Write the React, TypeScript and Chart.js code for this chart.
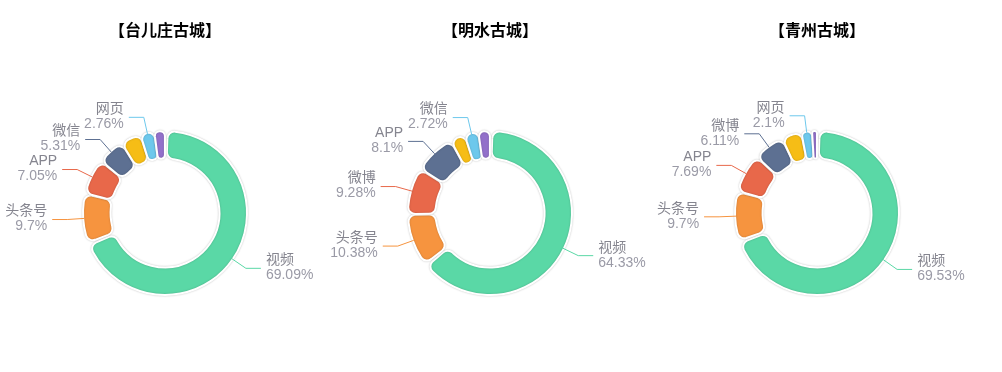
import React, { useEffect, useRef } from 'react';
import { Chart, registerables } from 'chart.js';

Chart.register(...registerables);

const titles = ['【台儿庄古城】', '【明水古城】', '【青州古城】'];

const namesA = ['视频', '头条号', 'APP', '微信', '微博', '网页', '其他'];
const valuesA = [69.09, 9.7, 7.05, 5.31, 4.0, 2.76, 2.09];

const namesB = ['视频', '头条号', '微博', 'APP', '网页', '微信', '其他'];
const valuesB = [64.33, 10.38, 9.28, 8.1, 2.9, 2.72, 2.29];

const namesC = ['视频', '头条号', 'APP', '微博', '微信', '网页', '其他'];
const valuesC = [69.53, 9.7, 7.69, 6.11, 3.9, 2.1, 0.97];

const colors = ['#5AD8A6', '#F6943F', '#E8684A', '#5D7092', '#F6BD16', '#6DC8EC', '#9270CA'];

const LABEL_FONT = '14px "Liberation Sans", "Noto Sans CJK SC", sans-serif';

const shadowPlugin = {
  id: 'arcShadow',
  beforeDatasetDraw(chart: any) {
    const ctx = chart.ctx;
    ctx.save();
    ctx.shadowColor = 'rgba(0,0,0,0.22)';
    ctx.shadowBlur = 2;
  },
  afterDatasetDraw(chart: any) {
    chart.ctx.restore();
  },
};

const titlePlugin = {
  id: 'customTitle',
  afterDraw(chart: any) {
    const ctx = chart.ctx;
    const t = chart.options.plugins.customTitle.text;
    ctx.save();
    ctx.font = 'bold 16px "Noto Sans CJK SC", sans-serif';
    ctx.fillStyle = '#000';
    ctx.textAlign = 'center';
    ctx.textBaseline = 'middle';
    ctx.fillText(t, chart.width / 2, 30);
    ctx.restore();
  },
};

const labelPlugin = {
  id: 'pieLabels',
  afterDatasetsDraw(chart: any) {
    const ctx = chart.ctx;
    const meta = chart.getDatasetMeta(0);
    const ds = chart.data.datasets[0];
    const labels = chart.data.labels;
    const placed: number[][] = [];
    ctx.save();
    ctx.font = LABEL_FONT;
    meta.data.forEach((arc: any, i: number) => {
      const { x, y, startAngle, endAngle, outerRadius } = arc.getProps(
        ['x', 'y', 'startAngle', 'endAngle', 'outerRadius'],
        true
      );
      const mid = (startAngle + endAngle) / 2;
      const c = Math.cos(mid);
      const s = Math.sin(mid);
      const r0 = outerRadius;
      const r1 = outerRadius + 17;
      const x0 = x + c * r0;
      const y0 = y + s * r0;
      const x1 = x + c * r1;
      const y1 = y + s * r1;
      const right = c >= 0;
      const x2 = x1 + (right ? 15 : -15);
      const tx = x2 + (right ? 5 : -5);
      const name = String(labels[i]);
      const pct = `${ds.data[i]}%`;
      const w = Math.max(ctx.measureText(name).width, ctx.measureText(pct).width);
      const box = right ? [tx, y1 - 15, tx + w, y1 + 15] : [tx - w, y1 - 15, tx, y1 + 15];
      const hit = placed.some(
        (b) => box[0] < b[2] && box[2] > b[0] && box[1] < b[3] && box[3] > b[1]
      );
      if (hit) return;
      placed.push(box);
      ctx.strokeStyle = colors[i % colors.length];
      ctx.lineWidth = 1;
      ctx.beginPath();
      ctx.moveTo(x0, y0);
      ctx.lineTo(x1, y1);
      ctx.lineTo(x2, y2Fix(y1));
      ctx.stroke();
      ctx.textAlign = right ? 'left' : 'right';
      ctx.textBaseline = 'middle';
      ctx.fillStyle = '#85858f';
      ctx.fillText(name, tx, y1 - 8);
      ctx.fillStyle = '#9a9aa6';
      ctx.fillText(pct, tx, y1 + 7);
    });
    ctx.restore();
  },
};

function y2Fix(v: number) {
  return v;
}

function Donut({ title, names, values, left }: { title: string; names: string[]; values: number[]; left: number }) {
  const ref = useRef<HTMLCanvasElement | null>(null);
  useEffect(() => {
    if (!ref.current) return;
    const chart = new Chart(ref.current, {
      type: 'doughnut',
      data: {
        labels: names,
        datasets: [
          {
            data: values,
            backgroundColor: colors,
            borderColor: '#ffffff',
            borderWidth: 2,
            borderRadius: 7,
            spacing: 2,
            hoverOffset: 0,
          },
        ],
      },
      options: {
        responsive: false,
        animation: false,
        radius: 81,
        cutout: '66%',
        layout: { padding: { top: 54, bottom: 0, left: 0, right: 0 } },
        plugins: {
          legend: { display: false },
          tooltip: { enabled: false },
          title: { display: false },
          customTitle: { text: title },
        } as any,
      },
      plugins: [shadowPlugin, labelPlugin, titlePlugin],
    });
    return () => chart.destroy();
  }, []);
  return (
    <div style={{ position: 'absolute', left, top: 0, width: 334, height: 372 }}>
      <canvas ref={ref} width={334} height={372} style={{ display: 'block' }} />
    </div>
  );
}

export default function App() {
  return (
    <div style={{ position: 'fixed', left: 0, top: 0, width: 1002, height: 372, background: '#fff', overflow: 'hidden' }}>
      <Donut title={titles[0]} names={namesA} values={valuesA} left={-2} />
      <Donut title={titles[1]} names={namesB} values={valuesB} left={323} />
      <Donut title={titles[2]} names={namesC} values={valuesC} left={650} />
    </div>
  );
}
